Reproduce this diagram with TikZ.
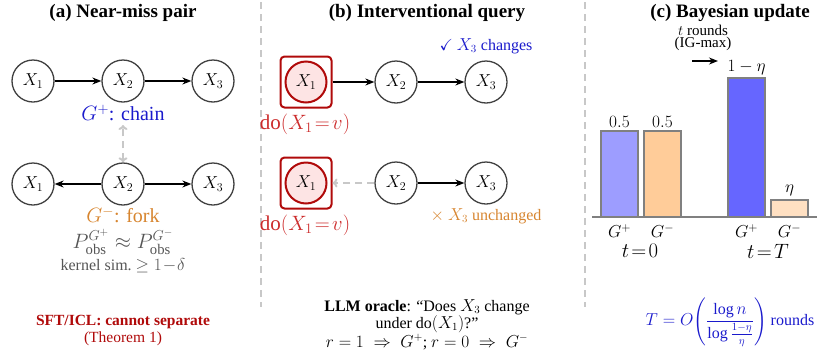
\documentclass[tikz,border=0pt]{standalone}
\usepackage{amsmath,amssymb}
\usepackage{fontspec}
\setmainfont{Liberation Serif}
\usetikzlibrary{arrows.meta}
\definecolor{ndgray}{HTML}{404040}
\definecolor{sepgray}{HTML}{C8C8C8}
\definecolor{gplus}{HTML}{1A1ACC}
\definecolor{gminus}{HTML}{D7852F}
\definecolor{dored}{HTML}{CC2B2B}
\definecolor{boxred}{HTML}{B00A0A}
\definecolor{pinkfill}{HTML}{FDE4E4}
\definecolor{barA}{HTML}{9D9DFF}
\definecolor{barB}{HTML}{FFCC99}
\definecolor{barC}{HTML}{6666FF}
\definecolor{barD}{HTML}{FFE0C2}
\definecolor{txtgray}{HTML}{555555}
\newcommand{\fs}[1]{\fontsize{#1}{#1}\selectfont}
\tikzset{
  var/.style={circle, draw=ndgray, line width=1.3pt, minimum size=42pt, inner sep=0pt, font=\fs{17}},
  dovar/.style={circle, draw=boxred, fill=pinkfill, line width=2pt, minimum size=41pt, inner sep=0pt, font=\fs{17}},
  dobox/.style={rectangle, rounded corners=4pt, draw=boxred, line width=2pt, minimum size=51pt, inner sep=0pt},
  arr/.style={-{Stealth[length=9pt,width=7pt]}, line width=1.3pt, black},
  gdash/.style={draw=sepgray, line width=2pt, dash pattern=on 7pt off 5pt},
  garr/.style={draw=sepgray, line width=2pt, dash pattern=on 7pt off 5pt, -{To[length=5pt,width=9pt]}},
  ttl/.style={font=\fs{19}\bfseries},
  captxt/.style={font=\fs{16}},
  bar/.style={draw=gray, line width=1.2pt}
}
\begin{document}
\begin{tikzpicture}[x=1pt,y=-1pt]
\useasboundingbox (0,0) rectangle (827,354);
% separators
\draw[gdash] (261,2) -- (261,307);
\draw[gdash] (585,2) -- (585,307);
% ---------- panel a
\node[ttl] (ta) at (123,13) {(a) Near-miss pair};
\node[var] (a1) at (33,81) {$X_1$};
\node[var] (a2) at (123,81) {$X_2$};
\node[var] (a3) at (213,81) {$X_3$};
\draw[arr] (a1) -- (a2);
\draw[arr] (a2) -- (a3);
\node[text=gplus, font=\fs{20}] (gp) at (123,113) {$G^+$: chain};
\node[var] (b1) at (33,184) {$X_1$};
\node[var] (b2) at (123,184) {$X_2$};
\node[var] (b3) at (213,184) {$X_3$};
\draw[arr] (b2) -- (b1);
\draw[arr] (b2) -- (b3);
\coordinate (gtip) at (123,125);
\draw[draw=sepgray, line width=2pt, dash pattern=on 7pt off 5pt, {To[length=5pt,width=9pt]}-{To[length=5pt,width=9pt]}] (b2.north) -- (gtip);
\node[text=gminus, font=\fs{20}] (gm) at (123,215) {$G^-$: fork};
\node[text=txtgray, font=\fs{21}, inner sep=0pt, anchor=base] (pf) at (123,248) {$P^{G^+}_{\mathrm{obs}}\approx P^{G^-}_{\mathrm{obs}}$};
\node[text=txtgray, font=\fs{16}, inner sep=0pt, anchor=base] (ks) at (123,270) {kernel sim.\ $\geq 1\!-\!\delta$};
\node[text=boxred, font=\fs{15.5}\bfseries] (sft) at (123,322) {SFT/ICL: cannot separate};
\node[text=boxred, font=\fs{15.5}] (thm) at (123,339) {(Theorem 1)};
% ---------- panel b
\node[ttl] (tb) at (427,13) {(b) Interventional query};
\node[text=gplus, font=\fs{16}] (chk) at (486,46) {$\checkmark$ $X_3$ changes};
\node[dobox] (d1) at (306,82) {};
\node[dovar] (c1) at (306,82) {$X_1$};
\node[var] (c2) at (396,82) {$X_2$};
\node[var] (c3) at (486,82) {$X_3$};
\draw[arr] (d1) -- (c2);
\draw[arr] (c2) -- (c3);
\node[text=dored, font=\fs{21}] (do1) at (305,124) {$\mathrm{do}(X_1\!=\!v)$};
\node[dobox] (d2) at (306,183) {};
\node[dovar] (e1) at (306,183) {$X_1$};
\node[var] (e2) at (396,183) {$X_2$};
\node[var] (e3) at (486,183) {$X_3$};
\draw[garr] (e2) -- (d2);
\draw[arr] (e2) -- (e3);
\node[text=dored, font=\fs{21}] (do2) at (305,225) {$\mathrm{do}(X_1\!=\!v)$};
\node[text=gminus, font=\fs{16}] (unch) at (486,216) {$\times$ $X_3$ unchanged};
\node[captxt] (l1) at (427,307) {\textbf{LLM oracle}: ``Does $X_3$ change};
\node[captxt] (l2) at (427,324) {under $\mathrm{do}(X_1)$?''};
\node[captxt] (l3) at (427,342) {$r=1\;\Rightarrow\;G^+$; $r=0\;\Rightarrow\;G^-$};
% ---------- panel c
\node[ttl] (tc) at (730,13) {(c) Bayesian update};
\node[font=\fs{15}, inner sep=0pt, anchor=base] (tr) at (703,35) {$t$ rounds};
\node[font=\fs{15}, inner sep=0pt, anchor=base] (ig) at (703,47.5) {(IG-max)};
\coordinate (ra) at (692,61);
\coordinate (rb) at (718,61);
\draw[arr] (ra) -- (rb);
\draw[bar, fill=barA] (601,217) rectangle (638,131);
\draw[bar, fill=barB] (644,217) rectangle (681,131);
\draw[bar, fill=barC] (728,217) rectangle (765,78);
\draw[bar, fill=barD] (771,217) rectangle (808,200);
\draw[gray, line width=1.2pt] (592,217) -- (817,217);
\node[font=\fs{17}] (v1) at (619.5,122) {$0.5$};
\node[font=\fs{17}] (v2) at (662.5,122) {$0.5$};
\node[font=\fs{17}] (v3) at (746.5,68) {$1-\eta$};
\node[font=\fs{17}] (v4) at (789.5,190) {$\eta$};
\node[font=\fs{17}] (g1) at (619.5,231) {$G^+$};
\node[font=\fs{17}] (g2) at (662.5,231) {$G^-$};
\node[font=\fs{17}] (g3) at (746.5,231) {$G^+$};
\node[font=\fs{17}] (g4) at (789.5,231) {$G^-$};
\node[font=\fs{21}] (t0) at (640,251) {$t\!=\!0$};
\node[font=\fs{21}] (tT) at (768,251) {$t\!=\!T$};
\node[text=gplus, font=\fs{16}] (Tf) at (730,322) {$T=O\!\left(\dfrac{\log n}{\log\frac{1-\eta}{\eta}}\right)$ rounds};
\end{tikzpicture}
\end{document}
